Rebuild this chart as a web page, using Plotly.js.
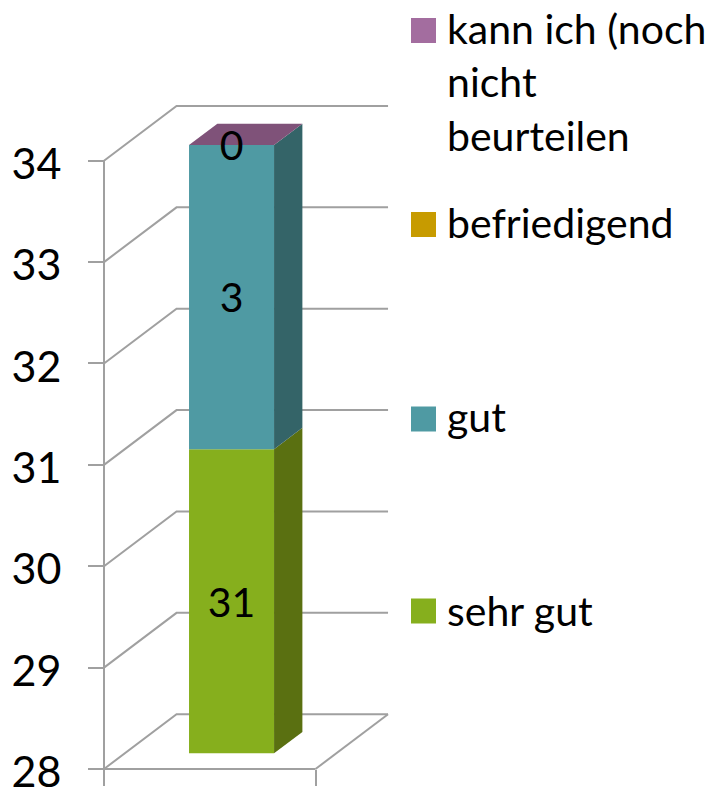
<!DOCTYPE html>
<html><head><meta charset="utf-8">
<script src="https://cdn.plot.ly/plotly-3.0.1.min.js"></script>
<style>html,body{margin:0;padding:0;background:#fff}#c{width:713px;height:788px}</style>
</head><body><div id="c"></div>
<script>
// Data
const seriesNames = ['sehr gut', 'gut', 'befriedigend', 'kann ich (noch'];
const seriesValues = [31, 3, 0, 0];
const axisFloor = 28;
const yTicks = [28, 29, 30, 31, 32, 33, 34];
const legendLabels = ['kann ich (noch<br>nicht<br>beurteilen', 'befriedigend', 'gut', 'sehr gut'];
const frontColors = ['#86AF1D', '#4F9AA3', '#C79B00', '#A36D9F'];
const sideColors = ['#5A7011', '#346468', '#7F6400', '#6B4668'];
const topColor = '#7F5279';
const legendColors = ['#A36D9F', '#C79B00', '#4F9AA3', '#86AF1D'];

// Projection constants
const W = 713, H = 788;
const left = 104, right = 315.5, top34 = 160.7, bot28 = 769;
const pxX = (right - left), pxY = (bot28 - top34) / 6;
const wallDx = 0.343, wallDy = 0.54;
const barCenter = 0.603, barWidth = 0.402;
const barLiftY = 0.155, barDx = 0.134, barDy = 0.21;
const labelDrop = 0.05;
const gridColor = '#A0A0A0', gridW = 2;
const font = 'Lato, Carlito, "Open Sans", sans-serif';
const xRange = [-left / pxX, (W - left) / pxX];
const yRange = [axisFloor - (H - bot28) / pxY, axisFloor + bot28 / pxY];

const traces = [];
const lineTrace = (x, y) => ({type:'scatter', mode:'lines', x, y, line:{color:gridColor, width:gridW},
  hoverinfo:'skip', showlegend:false});
// walls and gridlines on the lower subplot
yTicks.forEach(v => traces.push(lineTrace([0, wallDx, 1 + wallDx], [v, v + wallDy, v + wallDy])));
traces.push(lineTrace([1, 1 + wallDx], [axisFloor, axisFloor + wallDy]));
traces.push(lineTrace([0, 0], [axisFloor, yTicks[yTicks.length - 1]]));
traces.push(lineTrace([0, 1], [axisFloor, axisFloor]));

// bars on an overlay subplot, so they hide the gridlines
let prevTop = axisFloor, running = 0;
const stackTops = [];
seriesValues.forEach(v => {
  running += v;
  const t = Math.max(running, axisFloor);
  stackTops.push([prevTop, t]);
  prevTop = t;
});
const xr = barCenter + barWidth / 2, xl = barCenter - barWidth / 2;
seriesValues.forEach((v, i) => {
  const [b, t] = stackTops[i];
  traces.push({type:'bar', x:[barCenter], y:[t - b], base:[b + barLiftY], width:[barWidth], yaxis:'y2',
    marker:{color:frontColors[i], line:{width:0}}, name:seriesNames[i], showlegend:false});
  traces.push({type:'scatter', mode:'lines', fill:'toself', fillcolor:sideColors[i], yaxis:'y2',
    x:[xr, xr + barDx, xr + barDx, xr, xr],
    y:[b + barLiftY, b + barLiftY + barDy, t + barLiftY + barDy, t + barLiftY, b + barLiftY],
    line:{width:0, color:sideColors[i]}, hoverinfo:'skip', showlegend:false});
});
const topV = stackTops[stackTops.length - 1][1] + barLiftY;
traces.push({type:'scatter', mode:'lines', fill:'toself', fillcolor:topColor, yaxis:'y2',
  x:[xl, xl + barDx, xr + barDx, xr, xl], y:[topV, topV + barDy, topV + barDy, topV, topV],
  line:{width:0, color:topColor}, hoverinfo:'skip', showlegend:false});
// data labels (the two stacked zeros coincide, one is drawn)
const shown = [0, 1, 3];
traces.push({type:'scatter', mode:'text', yaxis:'y2', x:shown.map(() => barCenter),
  y:shown.map(i => (stackTops[i][0] + stackTops[i][1]) / 2 + barLiftY - labelDrop),
  text:shown.map(i => String(seriesValues[i])), textposition:'middle center',
  textfont:{family:font, size:41, color:'#000'}, hoverinfo:'skip', showlegend:false});

// legend drawn in page coordinates
const legendX = 411, legendBox = 25, legendTextX = 445;
const legendY = [30.5, 224.5, 419, 611];
const legendTextY = [82.5, 222.5, 417, 610];
const shapes = legendColors.map((c, i) => ({type:'rect', xref:'paper', yref:'paper',
  x0:legendX / W, x1:(legendX + legendBox) / W,
  y0:1 - (legendY[i] + legendBox / 2) / H, y1:1 - (legendY[i] - legendBox / 2) / H,
  fillcolor:c, line:{width:0}}));
const annotations = legendLabels.map((t, i) => ({xref:'paper', yref:'paper', x:legendTextX / W, y:1 - legendTextY[i] / H,
  xanchor:'left', yanchor:'middle', align:'left', showarrow:false, text:t,
  font:{family:font, size:41, color:'#000'}}));

const layout = {
  width:W, height:H, margin:{l:0, r:0, t:0, b:0, autoexpand:false},
  paper_bgcolor:'#fff', plot_bgcolor:'rgba(0,0,0,0)', showlegend:false, barmode:'overlay',
  xaxis:{domain:[0, 1], range:xRange, anchor:'free', position:(H - bot28) / H, tickvals:[0, 1], ticks:'outside', ticklen:16, tickwidth:gridW,
    tickcolor:gridColor, showticklabels:false, showline:false, showgrid:false, zeroline:false, fixedrange:true},
  yaxis:{domain:[0, 1], range:yRange, anchor:'free', position:left / W, tickvals:yTicks, ticktext:yTicks.map(String), ticks:'outside', ticklen:16, tickwidth:gridW,
    tickcolor:gridColor, showline:false, showgrid:false, zeroline:false, fixedrange:true,
    tickfont:{family:font, size:43, color:'#000'}, ticklabelstandoff:18, ticklabeloverflow:'allow', ticklabelshift:3},
  yaxis2:{overlaying:'y', domain:[0, 1], range:yRange, visible:false, fixedrange:true},
  shapes, annotations
};
Plotly.newPlot('c', traces, layout, {displayModeBar:false, staticPlot:true});
</script></body></html>
